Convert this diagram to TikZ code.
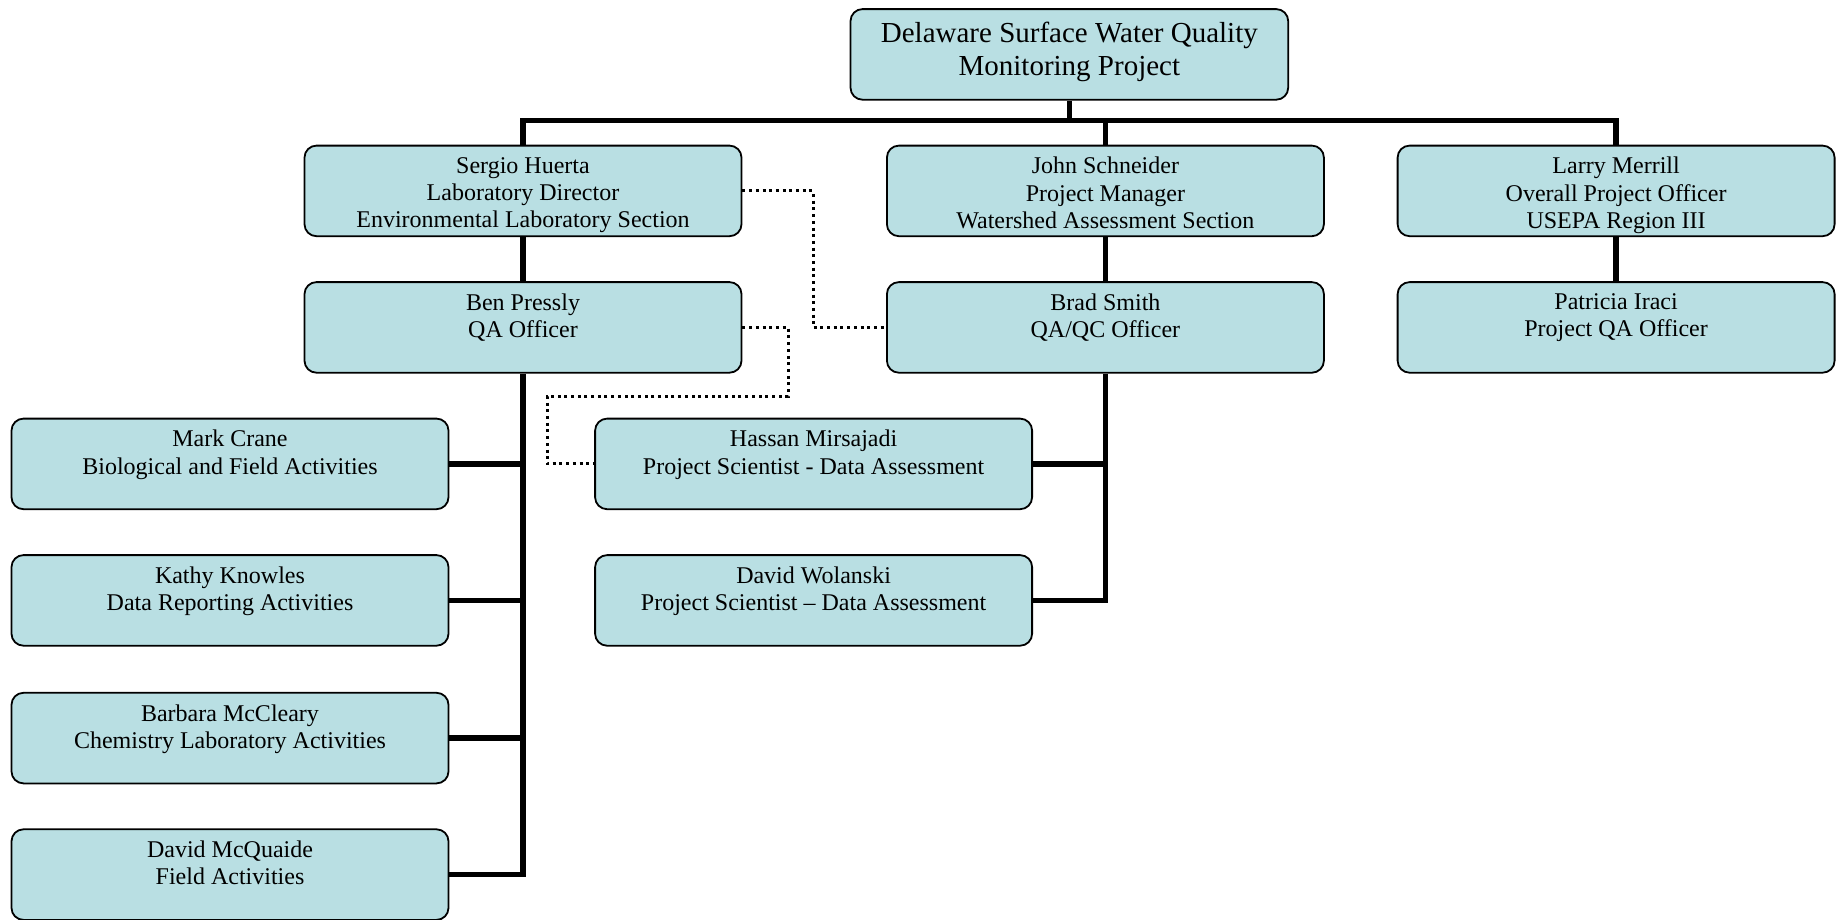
\documentclass[tikz,border=0pt]{standalone}
\usepackage{fontspec}
\setmainfont{Liberation Serif}
\definecolor{boxfill}{HTML}{B9DFE3}
\begin{document}
\begin{tikzpicture}[x=1pt,y=-1pt,
  orgbox/.style={draw=black, line width=1.8pt, fill=boxfill, rounded corners=12pt,
    minimum width=437pt, minimum height=90.6pt, inner sep=0pt, anchor=north west},
  topbox/.style={orgbox, minimum width=437.7pt},
  txt/.style={anchor=north, align=center, inner sep=0pt,
    font=\fontsize{24pt}{27.2pt}\selectfont},
  toptxt/.style={anchor=north, align=center, inner sep=0pt,
    font=\fontsize{29pt}{33pt}\selectfont},
  trunk/.style={line width=5.5pt, draw=black},
  dotline/.style={line width=3pt, draw=black, dash pattern=on 3pt off 3.7pt}]
\useasboundingbox (0,0) rectangle (1845,919);
\fill[white] (0,0) rectangle (1845,919);

% boxes
\node[topbox] (top) at (849.6,8.2) {};
\node[toptxt] at ([yshift=-13.2pt]top.north) {Delaware Surface Water Quality\\Monitoring Project};

\node[orgbox] (sergio) at (303.6,144.7) {};
\node[txt] at ([yshift=-12.4pt]sergio.north) {Sergio Huerta\\Laboratory Director\\Environmental Laboratory Section};
\node[orgbox] (john) at (886,144.7) {};
\node[txt] at ([yshift=-12.4pt]john.north) {John Schneider\\Project Manager\\Watershed Assessment Section};
\node[orgbox] (larry) at (1396.7,144.7) {};
\node[txt] at ([yshift=-12.4pt]larry.north) {Larry Merrill\\Overall Project Officer\\USEPA Region III};

\node[orgbox] (ben) at (303.6,281.2) {};
\node[txt] at ([yshift=-12.4pt]ben.north) {Ben Pressly\\QA Officer};
\node[orgbox] (brad) at (886,281.2) {};
\node[txt] at ([yshift=-12.4pt]brad.north) {Brad Smith\\QA/QC Officer};
\node[orgbox] (patricia) at (1396.7,281.2) {};
\node[txt] at ([yshift=-12.4pt]patricia.north) {Patricia Iraci\\Project QA Officer};

\node[orgbox] (mark) at (10.6,417.7) {};
\node[txt] at ([yshift=-12.4pt]mark.north) {Mark Crane\\Biological and Field Activities};
\node[orgbox] (hassan) at (594.2,417.7) {};
\node[txt] at ([yshift=-12.4pt]hassan.north) {Hassan Mirsajadi\\Project Scientist - Data Assessment};

\node[orgbox] (kathy) at (10.6,554.2) {};
\node[txt] at ([yshift=-12.4pt]kathy.north) {Kathy Knowles\\Data Reporting Activities};
\node[orgbox] (wolanski) at (594.2,554.2) {};
\node[txt] at ([yshift=-12.4pt]wolanski.north) {David Wolanski\\Project Scientist -- Data Assessment};

\node[orgbox] (barbara) at (10.6,691.9) {};
\node[txt] at ([yshift=-12.4pt]barbara.north) {Barbara McCleary\\Chemistry Laboratory Activities};

\node[orgbox] (mcq) at (10.6,828.4) {};
\node[txt] at ([yshift=-12.4pt]mcq.north) {David McQuaide\\Field Activities};

% coordinates
\coordinate (bar) at (0,120.5);
\coordinate (d1) at (813,0);
\coordinate (d2) at (788,396);
\coordinate (d3) at (547,396);

% solid connectors
\draw[trunk] (top.south) -- (top.south |- bar);
\draw[trunk] (sergio.north) -- (sergio.north |- bar) -- (larry.north |- bar) -- (larry.north);
\draw[trunk] (john.north) -- (john.north |- bar);
\draw[trunk] (sergio.south) -- (ben.north);
\draw[trunk] (larry.south) -- (patricia.north);
\draw[trunk] (john.south) -- (brad.north);
\draw[trunk] (ben.south) -- (ben.south |- mcq.east) -- (mcq.east);
\draw[trunk] (mark.east) -- (mark.east -| ben.south);
\draw[trunk] (kathy.east) -- (kathy.east -| ben.south);
\draw[trunk] (barbara.east) -- (barbara.east -| ben.south);
\draw[trunk] (brad.south) -- (brad.south |- wolanski.east) -- (wolanski.east);
\draw[trunk] (hassan.east) -- (hassan.east -| brad.south);

% dotted connectors
\draw[dotline] (sergio.east) -- (sergio.east -| d1) -- (d1 |- brad.west) -- (brad.west);
\draw[dotline] (ben.east) -- (ben.east -| d2) -- (d2) -- (d3) -- (d3 |- hassan.west) -- (hassan.west);
\end{tikzpicture}
\end{document}
